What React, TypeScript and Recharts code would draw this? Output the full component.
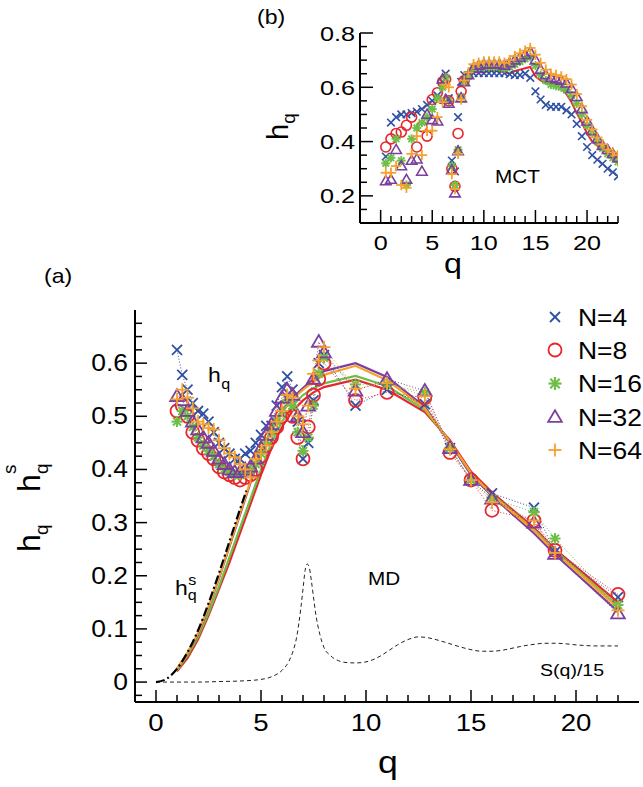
import React from 'react';
import { ComposedChart, Line, XAxis, YAxis, Legend } from 'recharts';

const FONT = '"Liberation Sans", Arial, Helvetica, sans-serif';
const SX = 1.15;

const BLUE = '#2E4FA3';
const RED = '#E8262D';
const GREEN = '#6CBF47';
const PURPLE = '#7B3F9E';
const ORANGE = '#F5A12C';

// ---------- panel (a): MD ----------
const qA = [1, 1.25, 1.5, 1.75, 2, 2.25, 2.5, 2.75, 3, 3.25, 3.5, 3.75, 4, 4.25, 4.5, 4.75, 5, 5.25, 5.5, 5.75, 6, 6.25, 6.5, 6.75, 7, 7.25, 7.5, 7.75, 8, 9.5, 11, 12.8, 14, 15, 16, 18, 19, 22];
const hA4 = [0.625, 0.578, 0.55, 0.525, 0.51, 0.505, 0.49, 0.47, 0.45, 0.44, 0.43, 0.42, 0.42, 0.43, 0.435, 0.45, 0.465, 0.482, 0.482, 0.52, 0.555, 0.575, 0.55, 0.49, 0.42, 0.45, 0.53, 0.6, 0.615, 0.52, 0.55, 0.523, 0.44, 0.38, 0.355, 0.328, 0.245, 0.16];
const hA8 = [0.51, 0.52, 0.5, 0.47, 0.455, 0.44, 0.43, 0.42, 0.405, 0.395, 0.39, 0.385, 0.38, 0.385, 0.39, 0.4, 0.425, 0.445, 0.46, 0.48, 0.5, 0.52, 0.5, 0.46, 0.42, 0.48, 0.54, 0.57, 0.6, 0.53, 0.545, 0.535, 0.432, 0.38, 0.323, 0.304, 0.248, 0.165];
const hA16 = [0.49, 0.51, 0.5, 0.48, 0.46, 0.445, 0.435, 0.425, 0.41, 0.4, 0.395, 0.39, 0.39, 0.395, 0.4, 0.41, 0.43, 0.45, 0.47, 0.49, 0.51, 0.53, 0.52, 0.47, 0.435, 0.46, 0.52, 0.58, 0.61, 0.56, 0.56, 0.545, 0.44, 0.38, 0.345, 0.32, 0.27, 0.145];
const hA32 = [0.538, 0.53, 0.51, 0.49, 0.475, 0.46, 0.45, 0.435, 0.42, 0.41, 0.4, 0.395, 0.395, 0.4, 0.405, 0.42, 0.44, 0.465, 0.485, 0.51, 0.535, 0.55, 0.54, 0.5, 0.47, 0.52, 0.57, 0.64, 0.62, 0.548, 0.57, 0.548, 0.44, 0.38, 0.345, 0.3, 0.241, 0.129];
const hA64 = [0.532, 0.55, 0.535, 0.515, 0.49, 0.485, 0.478, 0.475, 0.455, 0.44, 0.43, 0.423, 0.41, 0.4, 0.385, 0.42, 0.43, 0.445, 0.47, 0.49, 0.51, 0.54, 0.535, 0.5, 0.485, 0.52, 0.58, 0.605, 0.63, 0.552, 0.562, 0.538, 0.438, 0.38, 0.338, 0.304, 0.243, 0.135];

const qS = [1, 1.5, 2, 2.5, 3, 3.5, 4, 4.5, 5, 5.5, 6, 6.5, 7, 7.5, 8, 9.5, 11, 12.8, 14, 15, 16, 18, 19, 22];
const sA8 = [0.02, 0.045, 0.08, 0.125, 0.175, 0.225, 0.28, 0.335, 0.39, 0.44, 0.48, 0.51, 0.53, 0.545, 0.555, 0.569, 0.55, 0.508, 0.455, 0.396, 0.357, 0.29, 0.25, 0.15];
const sA16 = [0.022, 0.05, 0.085, 0.13, 0.18, 0.235, 0.29, 0.345, 0.4, 0.45, 0.49, 0.52, 0.54, 0.553, 0.562, 0.576, 0.557, 0.512, 0.452, 0.392, 0.353, 0.287, 0.248, 0.143];
const sA32 = [0.025, 0.055, 0.09, 0.14, 0.195, 0.255, 0.315, 0.375, 0.43, 0.475, 0.51, 0.535, 0.553, 0.57, 0.585, 0.6, 0.574, 0.518, 0.45, 0.39, 0.35, 0.28, 0.24, 0.133];
const sA64 = [0.025, 0.055, 0.092, 0.142, 0.197, 0.257, 0.318, 0.378, 0.432, 0.475, 0.508, 0.532, 0.55, 0.565, 0.578, 0.595, 0.568, 0.515, 0.452, 0.393, 0.352, 0.285, 0.245, 0.14];

const qT = [0, 0.5, 1, 1.5, 2, 2.5, 3, 3.5, 4, 4.3];
const hT = [0, 0.006, 0.025, 0.056, 0.097, 0.148, 0.205, 0.265, 0.325, 0.36];

const qSq = [0, 1, 2, 3, 4, 5, 5.5, 6, 6.3, 6.5, 6.7, 6.9, 7.0, 7.1, 7.2, 7.3, 7.4, 7.5, 7.6, 7.8, 8.0, 8.3, 8.7, 9.0, 9.5, 10, 10.5, 11, 11.5, 12, 12.5, 13, 13.5, 14, 14.5, 15, 15.5, 16, 16.5, 17, 17.5, 18, 18.5, 19, 19.5, 20, 21, 22];
const hSq = [0, 0, 0, 0.001, 0.002, 0.005, 0.01, 0.022, 0.037, 0.055, 0.085, 0.14, 0.175, 0.21, 0.222, 0.215, 0.19, 0.16, 0.13, 0.09, 0.065, 0.05, 0.04, 0.037, 0.036, 0.038, 0.045, 0.057, 0.07, 0.08, 0.085, 0.083, 0.078, 0.072, 0.066, 0.061, 0.058, 0.058, 0.06, 0.064, 0.068, 0.071, 0.073, 0.073, 0.072, 0.07, 0.068, 0.068];

// ---------- panel (b): MCT ----------
const qB = [0.5, 1, 1.5, 2, 2.5, 3, 3.5, 4, 4.5, 5, 5.5, 6, 6.3, 6.6, 6.9, 7.2, 7.5, 7.8, 8.1, 8.5, 9, 9.5, 10, 10.5, 11, 11.5, 12, 12.5, 13, 13.5, 14, 14.5, 15, 15.5, 16, 16.5, 17, 17.5, 18, 18.5, 19, 19.5, 20, 20.5, 21, 21.5, 22, 22.5, 23];
const hB4 = [0.345, 0.47, 0.49, 0.5, 0.5, 0.505, 0.51, 0.52, 0.535, 0.55, 0.57, 0.62, 0.65, 0.56, 0.33, 0.29, 0.49, 0.62, 0.645, 0.645, 0.652, 0.652, 0.652, 0.652, 0.652, 0.652, 0.652, 0.648, 0.645, 0.645, 0.65, 0.635, 0.585, 0.555, 0.535, 0.528, 0.528, 0.528, 0.515, 0.5, 0.465, 0.42, 0.38, 0.35, 0.333, 0.318, 0.3, 0.287, 0.272];
const qB8m = [0.5, 1, 1.5, 2, 2.5, 3, 3.5, 4, 4.5, 5, 5.5, 6, 6.3, 6.6, 6.9, 7.2, 7.5, 7.8, 8.1];
const hB8m = [0.38, 0.41, 0.43, 0.435, 0.46, 0.49, 0.38, 0.455, 0.42, 0.555, 0.58, 0.62, 0.63, 0.55, 0.3, 0.235, 0.43, 0.585, 0.625];
const qB8l = [8.1, 8.5, 9, 9.5, 10, 10.5, 11, 11.5, 12, 12.5, 13, 13.5, 14, 14.5, 15, 15.5, 16, 16.5, 17, 17.5, 18, 18.5, 19, 19.5, 20, 20.5, 21, 21.5, 22, 22.5, 23];
const hB8l = [0.625, 0.645, 0.655, 0.655, 0.655, 0.66, 0.66, 0.66, 0.655, 0.65, 0.66, 0.665, 0.67, 0.675, 0.64, 0.625, 0.615, 0.61, 0.605, 0.595, 0.575, 0.545, 0.505, 0.47, 0.43, 0.4, 0.385, 0.37, 0.36, 0.35, 0.34];
const hB16 = [0.32, 0.34, 0.41, 0.33, 0.24, 0.41, 0.45, 0.47, 0.49, 0.52, 0.56, 0.6, 0.635, 0.55, 0.31, 0.24, 0.37, 0.565, 0.62, 0.64, 0.67, 0.675, 0.675, 0.675, 0.675, 0.675, 0.67, 0.675, 0.685, 0.695, 0.705, 0.712, 0.68, 0.645, 0.625, 0.61, 0.605, 0.6, 0.59, 0.57, 0.54, 0.5, 0.46, 0.43, 0.4, 0.375, 0.355, 0.34, 0.325];
const hB32 = [0.255, 0.26, 0.37, 0.31, 0.26, 0.33, 0.335, 0.29, 0.5, 0.48, 0.475, 0.63, 0.555, 0.54, 0.295, 0.21, 0.365, 0.56, 0.62, 0.645, 0.67, 0.68, 0.685, 0.685, 0.685, 0.685, 0.68, 0.69, 0.7, 0.71, 0.72, 0.73, 0.7, 0.665, 0.645, 0.635, 0.63, 0.625, 0.615, 0.595, 0.565, 0.52, 0.475, 0.44, 0.41, 0.385, 0.37, 0.355, 0.34];
const hB64 = [0.285, 0.285, 0.31, 0.24, 0.23, 0.355, 0.42, 0.35, 0.44, 0.44, 0.49, 0.545, 0.61, 0.6, 0.28, 0.225, 0.355, 0.555, 0.625, 0.655, 0.685, 0.69, 0.695, 0.695, 0.695, 0.695, 0.69, 0.7, 0.715, 0.725, 0.735, 0.745, 0.72, 0.69, 0.665, 0.65, 0.645, 0.64, 0.63, 0.61, 0.575, 0.53, 0.48, 0.445, 0.415, 0.39, 0.37, 0.36, 0.35];

// ---------- ticks & labels ----------
const xTicksA = [0, 1, 2, 3, 4, 5, 6, 7, 8, 9, 10, 11, 12, 13, 14, 15, 16, 17, 18, 19, 20, 21, 22];
const yTicksA = Array.from({ length: 29 }, (_, i) => +((i - 1) * 0.025).toFixed(3));
const xTicksB = [0, 1, 2, 3, 4, 5, 6, 7, 8, 9, 10, 11, 12, 13, 14, 15, 16, 17, 18, 19, 20, 21, 22, 23];
const yTicksB = [0.15, 0.2, 0.25, 0.3, 0.35, 0.4, 0.45, 0.5, 0.55, 0.6, 0.65, 0.7, 0.75, 0.8];
const legendLabels = ['N=4', 'N=8', 'N=16', 'N=32', 'N=64'];

const zip = (qs: number[], hs: number[]) => qs.map((q, i) => ({ q, h: hs[i] }));

type Kind = 'x' | 'o' | '*' | 'tri' | '+';

function Mk({ kind, cx, cy, color, s, sw }: { kind: Kind; cx: number; cy: number; color: string; s: number; sw: number }) {
  if (kind === 'x')
    return (
      <g stroke={color} strokeWidth={sw}>
        <line x1={cx - s} y1={cy - s} x2={cx + s} y2={cy + s} />
        <line x1={cx - s} y1={cy + s} x2={cx + s} y2={cy - s} />
      </g>
    );
  if (kind === 'o') return <circle cx={cx} cy={cy} r={s} fill="none" stroke={color} strokeWidth={sw} />;
  if (kind === '*') {
    const d = s * 0.72;
    return (
      <g stroke={color} strokeWidth={sw + 0.4}>
        <line x1={cx - s} y1={cy} x2={cx + s} y2={cy} />
        <line x1={cx} y1={cy - s} x2={cx} y2={cy + s} />
        <line x1={cx - d} y1={cy - d} x2={cx + d} y2={cy + d} />
        <line x1={cx - d} y1={cy + d} x2={cx + d} y2={cy - d} />
      </g>
    );
  }
  if (kind === 'tri')
    return (
      <polygon
        points={`${cx},${cy - s * 1.05} ${cx + s * 1.05},${cy + s * 0.75} ${cx - s * 1.05},${cy + s * 0.75}`}
        fill="none"
        stroke={color}
        strokeWidth={sw}
      />
    );
  return (
    <g stroke={color} strokeWidth={sw}>
      <line x1={cx - s} y1={cy} x2={cx + s} y2={cy} />
      <line x1={cx} y1={cy - s} x2={cx} y2={cy + s} />
    </g>
  );
}

const dotFn = (kind: Kind, color: string, s: number, sw: number) => (p: any) => {
  const k = `${kind}-${color}-${p.index}`;
  if (p.cx == null || p.cy == null || !isFinite(p.cy)) return <g key={k} />;
  return (
    <g key={k}>
      <Mk kind={kind} cx={p.cx} cy={p.cy} color={color} s={s} sw={sw} />
    </g>
  );
};

function T({ x, y, size, anchor = 'start', sx = SX, children }: { x: number; y: number; size: number; anchor?: string; sx?: number; children: React.ReactNode }) {
  return (
    <text transform={`translate(${x},${y}) scale(${sx},1)`} x={0} y={0} fontSize={size} fontFamily={FONT} textAnchor={anchor as any} fill="#000">
      {children}
    </text>
  );
}

const isMult = (v: number, step: number) => Math.abs(v / step - Math.round(v / step)) < 1e-6;

const XTickA = (p: any) => {
  const v = p.payload.value;
  const major = isMult(v, 5);
  return (
    <g>
      <line x1={p.x} y1={p.y} x2={p.x} y2={p.y - (major ? 12 : 7)} stroke="#000" strokeWidth={1.5} />
      {major && <T x={p.x} y={p.y + 29} size={24} anchor="middle">{String(v)}</T>}
    </g>
  );
};
const YTickA = (p: any) => {
  const v = p.payload.value;
  const major = isMult(v, 0.1);
  return (
    <g>
      <line x1={p.x} y1={p.y} x2={p.x + (major ? 12 : 7)} y2={p.y} stroke="#000" strokeWidth={1.5} />
      {major && <T x={p.x - 7} y={p.y + 8} size={23} anchor="end">{v === 0 ? '0' : v.toFixed(1)}</T>}
    </g>
  );
};
const XTickB = (p: any) => {
  const v = p.payload.value;
  const major = isMult(v, 5);
  return (
    <g>
      <line x1={p.x} y1={p.y} x2={p.x} y2={p.y - (major ? 13 : 7)} stroke="#000" strokeWidth={1.5} />
      {major && <T x={p.x} y={p.y + 27} size={21} sx={1.2} anchor="middle">{String(v)}</T>}
    </g>
  );
};
const YTickB = (p: any) => {
  const v = p.payload.value;
  const major = isMult(v, 0.2);
  return (
    <g>
      <line x1={p.x} y1={p.y} x2={p.x + (major ? 13 : 7)} y2={p.y} stroke="#000" strokeWidth={1.5} />
      {major && <T x={p.x - 5} y={p.y + 7.5} size={21} sx={1.2} anchor="end">{v.toFixed(1)}</T>}
    </g>
  );
};

const legendKinds: Kind[] = ['x', 'o', '*', 'tri', '+'];
const legendColors = [BLUE, RED, GREEN, PURPLE, ORANGE];
const legendRowY = [19, 52, 85.5, 119, 152];

const LegendBox = () => (
  <svg width={100} height={175} style={{ overflow: 'visible', display: 'block' }}>
    {legendLabels.map((lab, i) => (
      <g key={lab}>
        <Mk kind={legendKinds[i]} cx={15} cy={legendRowY[i]} color={legendColors[i]} s={legendKinds[i] === 'x' ? 5 : 6.5} sw={1.8} />
        <T x={38} y={legendRowY[i] + 8.5} size={23}>{lab}</T>
      </g>
    ))}
  </svg>
);

const axisStyle = { stroke: '#000', strokeWidth: 2 };

export default function App() {
  return (
    <div style={{ position: 'absolute', left: 0, top: 0, width: 643, height: 787, background: '#fff', overflow: 'hidden' }}>
      <div style={{ position: 'absolute', left: 0, top: 0 }}>
        <ComposedChart width={643} height={787} margin={{ top: 310, right: 4, bottom: 55, left: 95 }}>
          <XAxis type="number" dataKey="q" domain={[-1, 23]} ticks={xTicksA} interval={0} allowDataOverflow height={30} tickLine={false} tickSize={0} tickMargin={0} axisLine={axisStyle} tick={(p: any) => <XTickA {...p} />} />
          <YAxis type="number" dataKey="h" domain={[-0.0375, 0.7]} ticks={yTicksA} interval={0} allowDataOverflow width={40} tickLine={false} tickSize={0} tickMargin={0} axisLine={axisStyle} tick={(p: any) => <YTickA {...p} />} />
          <Legend layout="horizontal" verticalAlign="middle" align="center" wrapperStyle={{ position: 'absolute', left: 540, top: 298, width: 100, height: 175 }} content={() => <LegendBox />} />
          <Line data={zip(qSq, hSq)} dataKey="h" type="monotone" stroke="#222" strokeWidth={1} strokeDasharray="4 3" dot={false} isAnimationActive={false} legendType="none" />
          <Line data={zip(qS, sA8)} dataKey="h" type="linear" stroke={RED} strokeWidth={2.2} dot={false} isAnimationActive={false} legendType="none" />
          <Line data={zip(qS, sA16)} dataKey="h" type="linear" stroke={GREEN} strokeWidth={2.2} dot={false} isAnimationActive={false} legendType="none" />
          <Line data={zip(qS, sA32)} dataKey="h" type="linear" stroke={PURPLE} strokeWidth={2.2} dot={false} isAnimationActive={false} legendType="none" />
          <Line data={zip(qS, sA64)} dataKey="h" type="linear" stroke={ORANGE} strokeWidth={2.2} dot={false} isAnimationActive={false} legendType="none" />
          <Line data={zip(qT, hT)} dataKey="h" type="monotone" stroke="#000" strokeWidth={2.2} strokeDasharray="9 3 2 3" dot={false} isAnimationActive={false} legendType="none" />
          <Line data={zip(qA, hA4)} dataKey="h" type="linear" stroke={BLUE} strokeWidth={1} strokeDasharray="1 2" dot={dotFn('x', BLUE, 5, 1.8)} isAnimationActive={false} legendType="none" />
          <Line data={zip(qA, hA8)} dataKey="h" type="linear" stroke={RED} strokeWidth={1} strokeDasharray="1 2" dot={dotFn('o', RED, 6.5, 1.8)} isAnimationActive={false} legendType="none" />
          <Line data={zip(qA, hA16)} dataKey="h" type="linear" stroke={GREEN} strokeWidth={1} strokeDasharray="1 2" dot={dotFn('*', GREEN, 5.5, 1.6)} isAnimationActive={false} legendType="none" />
          <Line data={zip(qA, hA32)} dataKey="h" type="linear" stroke={PURPLE} strokeWidth={1} strokeDasharray="1 2" dot={dotFn('tri', PURPLE, 6.5, 1.8)} isAnimationActive={false} legendType="none" />
          <Line data={zip(qA, hA64)} dataKey="h" type="linear" stroke={ORANGE} strokeWidth={1} strokeDasharray="1 2" dot={dotFn('+', ORANGE, 6.5, 1.8)} isAnimationActive={false} legendType="none" />
        </ComposedChart>
      </div>
      <div style={{ position: 'absolute', left: 0, top: 0 }}>
        <ComposedChart width={643} height={787} margin={{ top: 33, right: 25, bottom: 534, left: 320 }}>
          <XAxis type="number" dataKey="q" domain={[-2, 23]} ticks={xTicksB} interval={0} allowDataOverflow height={30} tickLine={false} tickSize={0} tickMargin={0} axisLine={axisStyle} tick={(p: any) => <XTickB {...p} />} />
          <YAxis type="number" dataKey="h" domain={[0.1, 0.8]} ticks={yTicksB} interval={0} allowDataOverflow width={40} tickLine={false} tickSize={0} tickMargin={0} axisLine={axisStyle} tick={(p: any) => <YTickB {...p} />} />
          <Line data={zip(qB, hB4)} dataKey="h" type="linear" stroke="none" dot={dotFn('x', BLUE, 3.8, 1.6)} isAnimationActive={false} legendType="none" />
          <Line data={zip(qB8m, hB8m)} dataKey="h" type="linear" stroke="none" dot={dotFn('o', RED, 5, 1.6)} isAnimationActive={false} legendType="none" />
          <Line data={zip(qB8l, hB8l)} dataKey="h" type="linear" stroke={RED} strokeWidth={2} dot={false} isAnimationActive={false} legendType="none" />
          <Line data={zip(qB, hB16)} dataKey="h" type="linear" stroke="none" dot={dotFn('*', GREEN, 4.5, 1.5)} isAnimationActive={false} legendType="none" />
          <Line data={zip(qB, hB32)} dataKey="h" type="linear" stroke="none" dot={dotFn('tri', PURPLE, 5, 1.6)} isAnimationActive={false} legendType="none" />
          <Line data={zip(qB, hB64)} dataKey="h" type="linear" stroke="none" dot={dotFn('+', ORANGE, 5.2, 1.8)} isAnimationActive={false} legendType="none" />
        </ComposedChart>
      </div>
      <svg width={643} height={787} style={{ position: 'absolute', left: 0, top: 0, pointerEvents: 'none' }}>
        <T x={257} y={24} size={20}>(b)</T>
        <T x={44} y={283} size={20}>(a)</T>
        <text transform="translate(288,140) rotate(-90)" fontSize={29} fontFamily={FONT} fill="#000">
          h<tspan dy={7} fontSize={19}>q</tspan>
        </text>
        <T x={453} y={273} size={28} anchor="middle">q</T>
        <T x={388} y={773} size={31} anchor="middle">q</T>
        <text transform="translate(40,552) rotate(-90)" fontSize={32} fontFamily={FONT} fill="#000">
          <tspan x={0} y={0}>h</tspan>
          <tspan x={17} y={8} fontSize={19}>q</tspan>
          <tspan x={60} y={0}>h</tspan>
          <tspan x={78} y={-24} fontSize={19}>s</tspan>
          <tspan x={78} y={8} fontSize={19}>q</tspan>
        </text>
        <text transform={`translate(208,382) scale(${SX},1)`} fontSize={20} fontFamily={FONT} fill="#000">
          h<tspan dx={0.5} dy={7} fontSize={14}>q</tspan>
        </text>
        <text transform={`translate(175,595) scale(${SX},1)`} fontSize={20} fontFamily={FONT} fill="#000">
          <tspan x={0} y={0}>h</tspan>
          <tspan x={11.5} y={-10} fontSize={14}>s</tspan>
          <tspan x={11} y={5} fontSize={14}>q</tspan>
        </text>
        <T x={368} y={585} size={18}>MD</T>
        <T x={540} y={676} size={17}>S(q)/15</T>
        <T x={495} y={183} size={18}>MCT</T>
      </svg>
    </div>
  );
}
